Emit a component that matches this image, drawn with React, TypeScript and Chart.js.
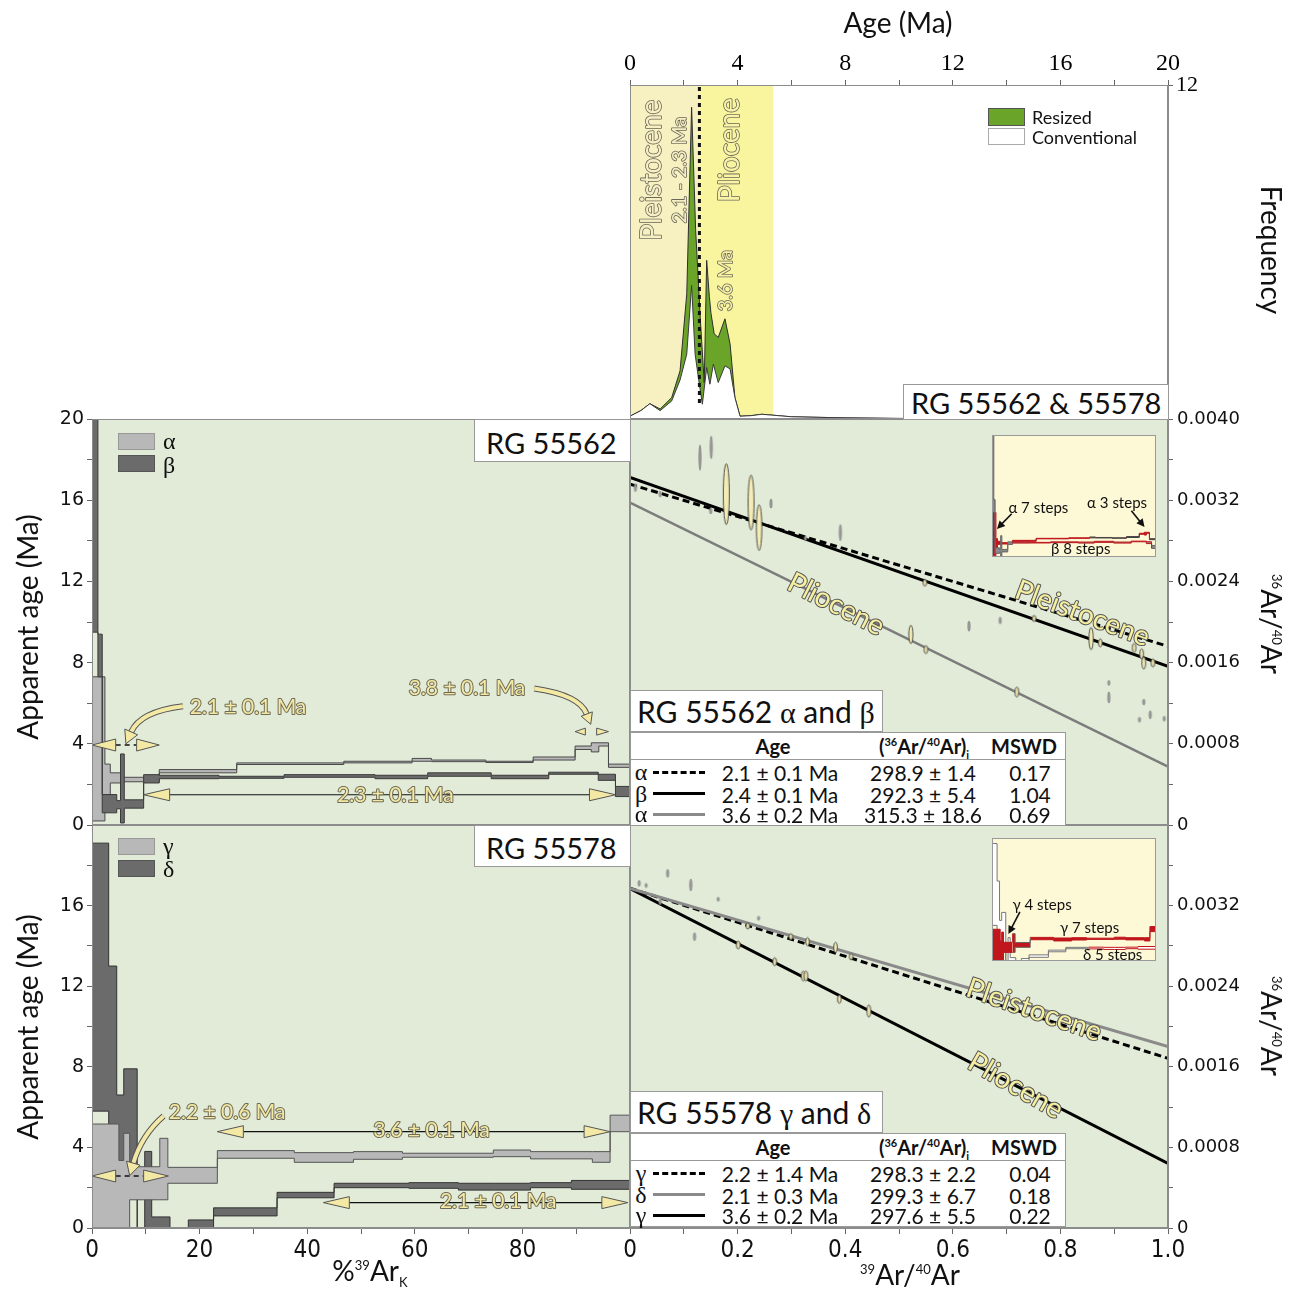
import React, { useEffect, useRef } from 'react';
import { Chart, registerables } from 'chart.js';

Chart.register(...registerables);

/* ===================== DATA ===================== */
// Top panel: age probability density (Ma vs frequency)
const resizedAge = [0, 0.4, 0.74, 1.12, 1.55, 1.86, 2.11, 2.29, 2.44, 2.62, 2.76, 2.85, 2.95, 3.01, 3.13, 3.28, 3.53, 3.72, 3.9, 4.09, 4.5, 4.9, 6, 8, 10, 20];
const resizedFreq = [0.1, 0.3, 0.55, 0.36, 0.77, 1.73, 4.5, 11.2, 6.8, 3.5, 1.3, 5.7, 4.4, 3.8, 3.06, 2.93, 3.6, 2.7, 0.77, 0.1, 0.12, 0.17, 0.08, 0.04, 0.02, 0];
const conventionalAge = [0, 0.4, 0.74, 1.12, 1.55, 1.86, 2.11, 2.29, 2.42, 2.6, 2.69, 2.85, 2.97, 3.1, 3.28, 3.53, 3.72, 3.9, 4.09, 4.5, 4.9, 6, 8, 10, 20];
const conventionalFreq = [0.1, 0.3, 0.55, 0.3, 0.65, 1.4, 2.33, 4.8, 2.33, 1.1, 0.53, 1.85, 1.25, 1.97, 1.31, 1.91, 1.8, 0.77, 0.1, 0.12, 0.17, 0.08, 0.04, 0.02, 0];
const epochLimits = [0, 2.58, 5.33]; // Pleistocene | Pliocene (Ma)

// Age spectra: cumulative %39ArK step edges and age envelopes (Ma)
const alphaEdges = [0, 2.4, 3.4, 5.7, 12.5, 26.9, 46.8, 59.5, 63.1, 73.2, 82.0, 89.8, 92.8, 94.2, 96.0, 100];
const alphaLow = [0.2, 1.2, 2.07, 2.13, 2.57, 2.98, 3.06, 3.14, 3.12, 3.08, 3.2, 3.72, 3.6, 3.89, 2.84];
const alphaHigh = [7.3, 3.0, 2.57, 2.35, 2.73, 3.06, 3.14, 3.28, 3.2, 3.14, 3.35, 3.89, 4.05, 4.05, 3.0];

const betaEdges = [0, 1.1, 1.9, 4.6, 5.3, 6.0, 9.6, 12.5, 23.6, 35.7, 52.6, 62.4, 74.2, 84.9, 94.1, 97.3, 100];
const betaLow = [9.5, 7.3, 0.6, 0.8, 0.1, 0.83, 2.07, 2.28, 2.3, 2.35, 2.28, 2.4, 2.28, 2.5, 2.2, 1.4];
const betaHigh = [20.5, 9.4, 1.5, 1.2, 3.5, 1.24, 2.48, 2.45, 2.4, 2.48, 2.45, 2.57, 2.45, 2.6, 2.5, 1.9];

const gammaEdges = [0, 5.0, 5.9, 7.0, 12.6, 14.1, 23.3, 37.6, 48.6, 57.7, 74.6, 81.5, 93.0, 96.3, 100];
const gammaLow = [0, 0, 0, 1.4, 1.4, 2.22, 3.46, 3.26, 3.41, 3.51, 3.54, 3.43, 3.26, 4.78];
const gammaHigh = [5.16, 3.35, 4.7, 3.04, 4.45, 3.01, 3.84, 3.74, 3.79, 3.71, 3.87, 3.79, 3.79, 5.6];

const deltaEdges = [0, 3.1, 4.6, 5.9, 8.4, 9.8, 11.1, 14.5, 17.9, 22.6, 34.4, 45.0, 58.9, 68.1, 74.8, 81.5, 89.1, 100];
const deltaLow = [5.8, 3.3, 2.4, 3.0, 0, 0, 0, 0, 0, 0.6, 1.5, 2.0, 1.97, 1.88, 1.88, 2.0, 1.92];
const deltaHigh = [19.1, 13.0, 6.6, 7.9, 0, 3.8, 0.55, 0, 0.4, 1.0, 1.77, 2.22, 2.25, 2.22, 2.22, 2.25, 2.36];

// Isochrons (39Ar/40Ar vs 36Ar/40Ar): line values at x = 0 and x = 1
const isoLineX = [0, 1];
const rg62AlphaPleist = [0.003358, 0.001761];
const rg62BetaPleist = [0.003424, 0.001563];
const rg62AlphaPlio = [0.003177, 0.000576];
const rg78GammaPleist = [0.003372, 0.001684];
const rg78DeltaPleist = [0.00337, 0.0018];
const rg78GammaPlio = [0.00337, 0.000642];

// Isochron steps (x, y, half-height error in y)
const rg62InX = [0.179, 0.225, 0.24, 0.548, 0.522, 0.55, 0.719, 0.751, 0.857, 0.874, 0.937, 0.951, 0.955, 0.972];
const rg62InY = [0.00326, 0.003177, 0.00293, 0.002387, 0.001877, 0.001728, 0.00131, 0.002035, 0.001837, 0.001794, 0.001745, 0.001686, 0.001597, 0.001597];
const rg62InE = [0.0003, 0.00027, 0.000224, 0.000033, 0.00009, 0.00004, 0.00005, 0.00003, 0.00011, 0.00004, 0.000045, 0.00005, 0.00006, 0.00004];
const rg62OutX = [0.13, 0.151, 0.262, 0.391, 0.63, 0.688, 0.89, 0.89, 0.955, 0.967, 0.947, 0.993, 0.01, 0.056, 0.15, 0.326];
const rg62OutY = [0.00362, 0.00372, 0.003167, 0.00288, 0.001959, 0.002015, 0.0014, 0.001257, 0.001211, 0.001086, 0.001037, 0.001047, 0.003325, 0.00326, 0.003094, 0.002825];
const rg62OutE = [0.000123, 0.00011, 0.000045, 0.00008, 0.00005, 0.000033, 0.000025, 0.000055, 0.00003, 0.00004, 0.000025, 0.000025, 0.00004, 0.00003, 0.00003, 0.00002];

const rg78InX = [0.201, 0.269, 0.322, 0.327, 0.389, 0.444, 0.219, 0.299, 0.33, 0.382, 0.411];
const rg78InY = [0.002809, 0.002643, 0.002501, 0.002501, 0.00227, 0.002154, 0.002998, 0.002892, 0.002842, 0.002786, 0.002693];
const rg78InE = [0.00004, 0.00004, 0.00005, 0.00005, 0.00004, 0.00006, 0.00003, 0.00003, 0.00004, 0.00005, 0.00003];
const rg78OutX = [0.07, 0.113, 0.164, 0.239, 0.12, 0.017, 0.056, 0.03];
const rg78OutY = [0.00352, 0.003405, 0.003263, 0.003074, 0.002892, 0.003421, 0.003239, 0.0034];
const rg78OutE = [0.00004, 0.00006, 0.00002, 0.00002, 0.00004, 0.00003, 0.00003, 0.00002];

// Result tables
const tabABSym = ['α', 'β', 'α'];
const tabABLine = ['dash', 'solid', 'gray'];
const tabABAge = ['2.1 ± 0.1 Ma', '2.4 ± 0.1 Ma', '3.6 ± 0.2 Ma'];
const tabABRatio = ['298.9 ± 1.4', '292.3 ± 5.4', '315.3 ± 18.6'];
const tabABMswd = ['0.17', '1.04', '0.69'];
const tabGDSym = ['γ', 'δ', 'γ'];
const tabGDLine = ['dash', 'gray', 'solid'];
const tabGDAge = ['2.2 ± 1.4 Ma', '2.1 ± 0.3 Ma', '3.6 ± 0.2 Ma'];
const tabGDRatio = ['298.3 ± 2.2', '299.3 ± 6.7', '297.6 ± 5.5'];
const tabGDMswd = ['0.04', '0.18', '0.22'];

/* ===================== STYLE ===================== */
const F_CAL = "Lato, 'Open Sans', 'DejaVu Sans', sans-serif";
const F_NARROW = "'Liberation Sans Narrow', 'DejaVu Sans Condensed', Lato, sans-serif";
const F_VERD = "'DejaVu Sans', Verdana, sans-serif";
const F_SERIF = "'Liberation Serif', 'DejaVu Serif', serif";
const PANEL = '#e2ebd8';
const FRAME = '#8c8c8c';
const LIGHT = '#b8b8b8';
const DARK = '#6b6b6b';
const NOTE_FILL = '#f3e9a4';
const NOTE_LINE = '#6e6a55';
const RED = '#c0161c';

/* ===================== HELPERS ===================== */
const zipPts = (xs: number[], ys: number[]) => xs.map((x, i) => ({ x, y: ys[i] }));
const zipErr = (xs: number[], ys: number[], es: number[]) => xs.map((x, i) => ({ x, y: ys[i], e: es[i] }));
const stepPts = (edges: number[], vals: number[]) => edges.map((x, i) => ({ x, y: vals[Math.min(i, vals.length - 1)] }));

function stepPair(label: string, edges: number[], low: number[], high: number[], fill: string, border: string, seg?: (i: number) => string) {
  const extra: any = seg ? { segment: { borderColor: (c: any) => seg(c.p0DataIndex) } } : {};
  return [
    { label: label + ' upper', data: stepPts(edges, high), stepped: 'before', borderColor: border, borderWidth: 1, pointRadius: 0, fill: false, ...extra },
    { label: label + ' lower', data: stepPts(edges, low), stepped: 'before', borderColor: border, borderWidth: 1, pointRadius: 0, fill: '-1', backgroundColor: fill, ...extra },
  ];
}

const ellipseCache = new Map<string, HTMLCanvasElement>();
function ellipseImage(rx: number, ry: number, fill: string, stroke: string) {
  const key = `${rx.toFixed(1)}_${ry.toFixed(1)}_${fill}_${stroke}`;
  let c = ellipseCache.get(key);
  if (!c) {
    c = document.createElement('canvas');
    c.width = Math.ceil(rx * 2 + 3);
    c.height = Math.ceil(ry * 2 + 3);
    const g = c.getContext('2d')!;
    g.beginPath();
    g.ellipse(c.width / 2, c.height / 2, rx, ry, 0, 0, Math.PI * 2);
    g.fillStyle = fill;
    g.fill();
    g.lineWidth = 0.9;
    g.strokeStyle = stroke;
    g.stroke();
    ellipseCache.set(key, c);
  }
  return c;
}
function ellipseStyle(c: any, fill: string, stroke: string, thin: boolean) {
  const raw = c.raw;
  if (!raw || c.type !== 'data' || !c.chart.scales.y) return 'circle';
  const ys = c.chart.scales.y;
  const ry = Math.max(2, Math.abs(ys.getPixelForValue(raw.y + raw.e) - ys.getPixelForValue(raw.y)));
  const rx = thin ? 1.1 : Math.min(3, 1.6 + ry * 0.05);
  return ellipseImage(rx, ry, fill, stroke);
}

function outlined(ctx: CanvasRenderingContext2D, text: string, px: number, py: number, size: number, fill: string, stroke: string, deg = 0, lw = 2) {
  ctx.save();
  ctx.translate(px, py);
  ctx.rotate((deg * Math.PI) / 180);
  ctx.font = `${size}px ${F_CAL}`;
  ctx.textAlign = 'center';
  ctx.textBaseline = 'middle';
  ctx.lineJoin = 'round';
  ctx.lineWidth = lw;
  ctx.strokeStyle = stroke;
  ctx.strokeText(text, 0, 0);
  ctx.fillStyle = fill;
  ctx.fillText(text, 0, 0);
  ctx.restore();
}
function triangle(ctx: CanvasRenderingContext2D, tipX: number, baseX: number, y: number, half: number) {
  ctx.save();
  ctx.beginPath();
  ctx.moveTo(tipX, y);
  ctx.lineTo(baseX, y - half);
  ctx.lineTo(baseX, y + half);
  ctx.closePath();
  ctx.fillStyle = NOTE_FILL;
  ctx.fill();
  ctx.strokeStyle = '#555';
  ctx.lineWidth = 1;
  ctx.stroke();
  ctx.restore();
}
function hArrow(ctx: CanvasRenderingContext2D, xL: number, xR: number, y: number, head: number, half: number) {
  ctx.save();
  ctx.strokeStyle = '#111';
  ctx.lineWidth = 1.2;
  ctx.beginPath();
  ctx.moveTo(xL + head, y);
  ctx.lineTo(xR - head, y);
  ctx.stroke();
  ctx.restore();
  triangle(ctx, xL, xL + head, y, half);
  triangle(ctx, xR, xR - head, y, half);
}
function dashSeg(ctx: CanvasRenderingContext2D, x0: number, x1: number, y: number) {
  ctx.save();
  ctx.setLineDash([5, 4]);
  ctx.strokeStyle = '#111';
  ctx.lineWidth = 1.3;
  ctx.beginPath();
  ctx.moveTo(x0, y);
  ctx.lineTo(x1, y);
  ctx.stroke();
  ctx.restore();
}
function curvedArrow(ctx: CanvasRenderingContext2D, p0: number[], c: number[], p1: number[], L = 13, W = 7) {
  const ang = Math.atan2(p1[1] - c[1], p1[0] - c[0]);
  const bx = p1[0] - L * Math.cos(ang), by = p1[1] - L * Math.sin(ang);
  ctx.save();
  ctx.beginPath();
  ctx.moveTo(p0[0], p0[1]);
  ctx.quadraticCurveTo(c[0], c[1], bx, by);
  ctx.strokeStyle = '#555';
  ctx.lineWidth = 6;
  ctx.stroke();
  ctx.strokeStyle = NOTE_FILL;
  ctx.lineWidth = 4;
  ctx.stroke();
  ctx.beginPath();
  ctx.moveTo(p1[0], p1[1]);
  ctx.lineTo(bx + W * Math.sin(ang), by - W * Math.cos(ang));
  ctx.lineTo(bx - W * Math.sin(ang), by + W * Math.cos(ang));
  ctx.closePath();
  ctx.fillStyle = NOTE_FILL;
  ctx.fill();
  ctx.strokeStyle = '#555';
  ctx.lineWidth = 1;
  ctx.stroke();
  ctx.restore();
}
function blackArrow(ctx: CanvasRenderingContext2D, p0: number[], p1: number[]) {
  const ang = Math.atan2(p1[1] - p0[1], p1[0] - p0[0]);
  ctx.save();
  ctx.strokeStyle = '#111';
  ctx.fillStyle = '#111';
  ctx.lineWidth = 1.6;
  ctx.beginPath();
  ctx.moveTo(p0[0], p0[1]);
  ctx.lineTo(p1[0] - 6 * Math.cos(ang), p1[1] - 6 * Math.sin(ang));
  ctx.stroke();
  ctx.beginPath();
  ctx.moveTo(p1[0], p1[1]);
  ctx.lineTo(p1[0] - 8 * Math.cos(ang) + 4 * Math.sin(ang), p1[1] - 8 * Math.sin(ang) - 4 * Math.cos(ang));
  ctx.lineTo(p1[0] - 8 * Math.cos(ang) - 4 * Math.sin(ang), p1[1] - 8 * Math.sin(ang) + 4 * Math.cos(ang));
  ctx.closePath();
  ctx.fill();
  ctx.restore();
}

function framePlugin(bg: string | null, border = FRAME) {
  return {
    id: 'frame',
    beforeDraw(chart: any) {
      if (!bg) return;
      const { ctx, chartArea: a } = chart;
      ctx.save();
      ctx.fillStyle = bg;
      ctx.fillRect(a.left, a.top, a.right - a.left, a.bottom - a.top);
      ctx.restore();
    },
    afterDraw(chart: any) {
      const { ctx, chartArea: a } = chart;
      ctx.save();
      ctx.strokeStyle = border;
      ctx.lineWidth = 1;
      ctx.strokeRect(a.left + 0.5, a.top + 0.5, a.right - a.left - 1, a.bottom - a.top - 1);
      ctx.restore();
    },
  };
}
function notesPlugin(fn: (chart: any) => void) {
  return { id: 'notes', afterDatasetsDraw(chart: any) { fn(chart); } };
}
const bandsPlugin = {
  id: 'bands',
  beforeDatasetsDraw(chart: any) {
    const { ctx, chartArea: a, scales: { x } } = chart;
    const p = epochLimits.map((v) => x.getPixelForValue(v));
    ctx.save();
    ctx.fillStyle = '#f7f0c1';
    ctx.fillRect(p[0], a.top, p[1] - p[0], a.bottom - a.top);
    ctx.fillStyle = '#f9f59f';
    ctx.fillRect(p[1], a.top, p[2] - p[1], a.bottom - a.top);
    ctx.restore();
  },
};

const baseOpts = (padding: any) => ({
  responsive: false,
  animation: false,
  devicePixelRatio: 1,
  layout: { padding },
  plugins: { legend: { display: false }, tooltip: { enabled: false } },
});

const gridOpts = { drawOnChartArea: false, tickLength: 5, color: '#666' };

// fixed axis sizes, no extra label padding pushed into the layout
const fitH = (h: number) => (s: any) => { s.height = h; s.paddingLeft = 0; s.paddingRight = 0; s.paddingTop = 0; s.paddingBottom = 0; };
const fitW = (w: number) => (s: any) => { s.width = w; s.paddingLeft = 0; s.paddingRight = 0; s.paddingTop = 0; s.paddingBottom = 0; };
const fitNone = (s: any) => { s.width = 0; s.height = 0; s.paddingLeft = 0; s.paddingRight = 0; s.paddingTop = 0; s.paddingBottom = 0; };

/* ===================== CONFIGS ===================== */
function topNotes(chart: any) {
  const { ctx, chartArea: a, scales: { x, y } } = chart;
  const bx = x.getPixelForValue(epochLimits[1]);
  ctx.save();
  ctx.setLineDash([4, 4]);
  ctx.lineWidth = 3;
  ctx.strokeStyle = '#111';
  ctx.beginPath();
  ctx.moveTo(bx, a.top + 2);
  ctx.lineTo(bx, a.bottom - 14);
  ctx.stroke();
  ctx.restore();
  const X = (v: number) => x.getPixelForValue(v), Y = (v: number) => y.getPixelForValue(v);
  outlined(ctx, 'Pleistocene', X(0.82), Y(8.94), 28, '#f6efc4', '#6b6757', -90, 1.6);
  outlined(ctx, '2.1 - 2.3 Ma', X(1.84), Y(8.94), 20, '#f6efc4', '#6b6757', -90, 1.6);
  outlined(ctx, 'Pliocene', X(3.72), Y(9.66), 28, '#f8f3a6', '#6b6757', -90, 1.6);
  outlined(ctx, '3.6 Ma', X(3.55), Y(4.97), 20, '#f8f3a6', '#6b6757', -90, 1.6);
}

function topConfig(): any {
  return {
    type: 'line',
    data: {
      datasets: [
        { label: 'Conventional', data: zipPts(conventionalAge, conventionalFreq), borderColor: '#3b3b3b', borderWidth: 1, backgroundColor: '#ffffff', fill: 'origin', pointRadius: 0, order: 0 },
        { label: 'Resized', data: zipPts(resizedAge, resizedFreq), borderColor: '#2f2f2f', borderWidth: 1, backgroundColor: '#6aa52a', fill: 'origin', pointRadius: 0, order: 1 },
      ],
    },
    options: {
      ...baseOpts({ left: 30, right: 0, top: 0, bottom: 6 }),
      scales: {
        x: {
          type: 'linear', position: 'top', min: 0, max: 20,
          ticks: { stepSize: 2, autoSkip: false, maxRotation: 0, padding: 2, color: '#000', font: { family: F_SERIF, size: 24 }, callback: (v: number) => (v % 4 === 0 ? String(v) : '') },
          grid: gridOpts, border: { color: FRAME },
          afterFit: fitH(85),
        },
        y: {
          type: 'linear', position: 'right', min: 0, max: 12,
          ticks: { stepSize: 12, padding: 3, color: '#000', font: { family: F_SERIF, size: 22 }, callback: (v: number) => (v === 12 ? '12' : '') },
          grid: gridOpts, border: { color: FRAME },
          afterFit: fitW(121),
        },
      },
    },
    plugins: [framePlugin('#ffffff'), bandsPlugin, notesPlugin(topNotes)],
  };
}

function spectrumConfig(datasets: any[], showX: boolean, hideTop: boolean, notes: (c: any) => void, padding: any): any {
  return {
    type: 'line',
    data: { datasets },
    options: {
      ...baseOpts(padding),
      scales: {
        x: {
          type: 'linear', min: 0, max: 100, display: showX,
          ticks: { stepSize: 10, autoSkip: false, maxRotation: 0, padding: 2, color: '#111', font: { family: F_NARROW, size: 24 }, callback: (v: number) => (v % 20 === 0 && v !== 100 ? String(v) : '') },
          grid: { ...gridOpts, tickLength: 6 }, border: { color: FRAME },
          afterFit: showX ? fitH(65) : fitNone,
        },
        y: {
          type: 'linear', min: 0, max: 20,
          ticks: { stepSize: 2, autoSkip: false, padding: 3, color: '#111', font: { family: F_VERD, size: 19 }, callback: (v: number) => (v % 4 === 0 && !(hideTop && v === 20) ? String(v) : '') },
          grid: gridOpts, border: { color: FRAME },
          afterFit: fitW(52),
        },
      },
    },
    plugins: [framePlugin(PANEL), notesPlugin(notes)],
  };
}

function notesB(chart: any) {
  const { ctx, scales: { x, y } } = chart;
  const X = (v: number) => x.getPixelForValue(v), Y = (v: number) => y.getPixelForValue(v);
  hArrow(ctx, X(9.6), X(97.3), Y(1.49), 26, 6);
  outlined(ctx, '2.3 ± 0.1 Ma', X(56.4), Y(1.49), 21, NOTE_FILL, NOTE_LINE);
  dashSeg(ctx, X(4.4), X(8.3), Y(3.94));
  triangle(ctx, X(0), X(4.4), Y(3.94), 6);
  triangle(ctx, X(12.5), X(8.3), Y(3.94), 6);
  curvedArrow(ctx, [X(16.9), Y(5.85)], [X(9.0), Y(5.6)], [X(6.3), Y(4.0)]);
  outlined(ctx, '2.1 ± 0.1 Ma', X(29.0), Y(5.79), 21, NOTE_FILL, NOTE_LINE);
  triangle(ctx, X(89.8), X(91.7), Y(4.6), 3.5);
  triangle(ctx, X(96), X(93.8), Y(4.6), 3.5);
  curvedArrow(ctx, [X(82.2), Y(6.72)], [X(90.6), Y(6.4)], [X(92.7), Y(4.96)], 11, 6);
  outlined(ctx, '3.8 ± 0.1 Ma', X(69.7), Y(6.75), 21, NOTE_FILL, NOTE_LINE);
}
function notesD(chart: any) {
  const { ctx, scales: { x, y } } = chart;
  const X = (v: number) => x.getPixelForValue(v), Y = (v: number) => y.getPixelForValue(v);
  hArrow(ctx, X(23.3), X(96.3), Y(4.78), 26, 6);
  outlined(ctx, '3.6 ± 0.1 Ma', X(63.1), Y(4.86), 21, NOTE_FILL, NOTE_LINE);
  hArrow(ctx, X(43), X(99.6), Y(1.26), 26, 6);
  outlined(ctx, '2.1 ± 0.1 Ma', X(75.5), Y(1.31), 21, NOTE_FILL, NOTE_LINE);
  dashSeg(ctx, X(4.4), X(9.6), Y(2.58));
  triangle(ctx, X(0), X(4.4), Y(2.58), 6);
  triangle(ctx, X(14.2), X(9.6), Y(2.58), 6);
  curvedArrow(ctx, [X(13.3), Y(5.56)], [X(9.2), Y(4.6)], [X(7.0), Y(2.6)]);
  outlined(ctx, '2.2 ± 0.6 Ma', X(25.1), Y(5.73), 21, NOTE_FILL, NOTE_LINE);
}

function isoLine(label: string, vals: number[], color: string, width: number, dash: number[] = []) {
  return { label, data: zipPts(isoLineX, vals), borderColor: color, borderWidth: width, borderDash: dash, pointRadius: 0, fill: false, order: 2 };
}
function isoPoints(label: string, pts: any[], fill: string, stroke: string, thin = false) {
  return { label, data: pts, showLine: false, pointRadius: 3, pointHoverRadius: 3, pointStyle: (c: any) => ellipseStyle(c, fill, stroke, thin), order: 0 };
}
function isoConfig(datasets: any[], showX: boolean, hideTop: boolean, notes: (c: any) => void, padding: any): any {
  return {
    type: 'line',
    data: { datasets },
    options: {
      ...baseOpts(padding),
      scales: {
        x: {
          type: 'linear', min: 0, max: 1, display: showX,
          ticks: {
            stepSize: 0.1, autoSkip: false, maxRotation: 0, padding: 2, color: '#111', font: { family: F_NARROW, size: 24 },
            callback: (v: number) => { const i = Math.round(v * 10); return i % 2 ? '' : i === 0 ? '0' : (i / 10).toFixed(1); },
          },
          grid: { ...gridOpts, tickLength: 6 }, border: { color: FRAME },
          afterFit: showX ? fitH(65) : fitNone,
        },
        y: {
          type: 'linear', position: 'right', min: 0, max: 0.004,
          ticks: {
            stepSize: 0.0004, autoSkip: false, padding: 4, color: '#111', font: { family: F_VERD, size: 18 },
            callback: (v: number) => { const i = Math.round(v / 0.0004); if (i % 2) return ''; if (hideTop && i === 10) return ''; return i === 0 ? '0' : (i * 0.0004).toFixed(4); },
          },
          grid: gridOpts, border: { color: FRAME },
          afterFit: fitW(121),
        },
      },
    },
    plugins: [framePlugin(PANEL), notesPlugin(notes)],
  };
}
function notesC(chart: any) {
  const { ctx, scales: { x, y } } = chart;
  outlined(ctx, 'Pliocene', x.getPixelForValue(0.383), y.getPixelForValue(0.002173), 28, '#f7efa0', '#555', 27);
  outlined(ctx, 'Pleistocene', x.getPixelForValue(0.841), y.getPixelForValue(0.002084), 28, '#f7efa0', '#555', 20.5);
}
function notesE(chart: any) {
  const { ctx, scales: { x, y } } = chart;
  outlined(ctx, 'Pleistocene', x.getPixelForValue(0.751), y.getPixelForValue(0.002164), 28, '#f7efa0', '#555', 19);
  outlined(ctx, 'Pliocene', x.getPixelForValue(0.717), y.getPixelForValue(0.001413), 28, '#f7efa0', '#555', 30);
}

function insetConfig(datasets: any[], notes: (c: any) => void): any {
  return {
    type: 'line',
    data: { datasets },
    options: {
      ...baseOpts({ left: 0, right: 0, top: 0, bottom: 0 }),
      scales: {
        x: { type: 'linear', min: 0, max: 100, display: false, afterFit: fitNone },
        y: { type: 'linear', min: 0, max: 20, display: false, afterFit: fitNone },
      },
    },
    plugins: [framePlugin('#fdf8d6', '#9a9a9a'), notesPlugin(notes)],
  };
}
function insetText(ctx: CanvasRenderingContext2D, t: string, px: number, py: number) {
  ctx.save();
  ctx.font = `15px ${F_CAL}`;
  ctx.fillStyle = '#111';
  ctx.textAlign = 'left';
  ctx.textBaseline = 'middle';
  ctx.fillText(t, px, py);
  ctx.restore();
}
function notesI1(chart: any) {
  const { ctx, scales: { x, y } } = chart;
  const X = (v: number) => x.getPixelForValue(v), Y = (v: number) => y.getPixelForValue(v);
  insetText(ctx, 'α 7 steps', X(10), Y(8.0));
  insetText(ctx, 'α 3 steps', X(58), Y(8.85));
  insetText(ctx, 'β 8 steps', X(36), Y(1.3));
  blackArrow(ctx, [X(12), Y(7.1)], [X(3), Y(4.6)]);
  blackArrow(ctx, [X(85), Y(7.6)], [X(93), Y(4.9)]);
}
function notesI2(chart: any) {
  const { ctx, scales: { x, y } } = chart;
  const X = (v: number) => x.getPixelForValue(v), Y = (v: number) => y.getPixelForValue(v);
  insetText(ctx, 'γ 4 steps', X(12.5), Y(9.1));
  insetText(ctx, 'γ 7 steps', X(41.5), Y(5.4));
  insetText(ctx, 'δ 5 steps', X(55.5), Y(1.0));
  blackArrow(ctx, [X(17), Y(8.0)], [X(10), Y(4.4)]);
}

/* ===================== HTML PIECES ===================== */
const Sup = ({ t, size = 13, rise = 11 }: any) => <span style={{ fontSize: size, position: 'relative', top: -rise }}>{t}</span>;
const Sub = ({ t, size = 13, drop = 6 }: any) => <span style={{ fontSize: size, position: 'relative', top: drop }}>{t}</span>;
const Gk = ({ t }: any) => <span style={{ fontFamily: F_SERIF }}>{t}</span>;

function CT({ x, y, size = 28, rot = 0, children, family = F_CAL, weight = 400 }: any) {
  return (
    <div style={{ position: 'absolute', left: x, top: y, transform: `translate(-50%,-50%)${rot ? ` rotate(${rot}deg)` : ''}`, whiteSpace: 'nowrap', fontSize: size, fontFamily: family, fontWeight: weight, color: '#111', lineHeight: 1 }}>
      {children}
    </div>
  );
}
function LT({ x, y, size = 18, children, family = F_CAL }: any) {
  return (
    <div style={{ position: 'absolute', left: x, top: y, transform: 'translateY(-50%)', whiteSpace: 'nowrap', fontSize: size, fontFamily: family, color: '#111', lineHeight: 1 }}>
      {children}
    </div>
  );
}
function Box({ l, t, w, h, bg = '#fff', border = '#999' }: any) {
  return <div style={{ position: 'absolute', left: l, top: t, width: w, height: h, background: bg, border: `1px solid ${border}`, boxSizing: 'border-box' }} />;
}

function ResultTable({ top, title, syms, lines, ages, ratios, mswds }: any) {
  const lineStyle = (k: string) =>
    k === 'dash' ? '3px dashed #000' : k === 'solid' ? '3px solid #000' : '3px solid #8a8a8a';
  const tTop = top + 42;
  const rowY = [40, 61.5, 82];
  return (
    <>
      <div style={{ position: 'absolute', left: 630, top, width: 253, height: 42, background: '#fff', border: '1px solid #999', boxSizing: 'border-box' }} />
      <LT x={637} y={top + 22} size={30}>{title}</LT>
      <div style={{ position: 'absolute', left: 630, top: tTop, width: 436, height: 94, background: '#fff', border: '1px solid #999', boxSizing: 'border-box' }} />
      <div style={{ position: 'absolute', left: 630, top: tTop + 27, width: 436, height: 0, borderTop: '1px solid #999' }} />
      <CT x={773} y={tTop + 14} size={20} weight={700}>Age</CT>
      <CT x={924} y={tTop + 14} size={20} weight={700}>
        (<Sup t="36" size={11} rise={8} />Ar/<Sup t="40" size={11} rise={8} />Ar)<Sub t="i" size={11} drop={5} />
      </CT>
      <CT x={1024} y={tTop + 14} size={20} weight={700}>MSWD</CT>
      {syms.map((s: string, i: number) => (
        <React.Fragment key={i}>
          <CT x={641} y={tTop + rowY[i]} size={24} family={F_SERIF}>{s}</CT>
          <div style={{ position: 'absolute', left: 653, top: tTop + rowY[i] - 1.5, width: 52, height: 0, borderTop: lineStyle(lines[i]) }} />
          <CT x={780} y={tTop + rowY[i]} size={21}>{ages[i]}</CT>
          <CT x={923} y={tTop + rowY[i]} size={21}>{ratios[i]}</CT>
          <CT x={1030} y={tTop + rowY[i]} size={21}>{mswds[i]}</CT>
        </React.Fragment>
      ))}
    </>
  );
}

/* ===================== APP ===================== */
export default function App() {
  const rA = useRef<HTMLCanvasElement>(null);
  const rB = useRef<HTMLCanvasElement>(null);
  const rC = useRef<HTMLCanvasElement>(null);
  const rD = useRef<HTMLCanvasElement>(null);
  const rE = useRef<HTMLCanvasElement>(null);
  const rI1 = useRef<HTMLCanvasElement>(null);
  const rI2 = useRef<HTMLCanvasElement>(null);

  useEffect(() => {
    const charts: Chart[] = [];
    charts.push(new Chart(rA.current!, topConfig()));
    charts.push(new Chart(rB.current!, spectrumConfig(
      [...stepPair('β', betaEdges, betaLow, betaHigh, DARK, '#3a3a3a'), ...stepPair('α', alphaEdges, alphaLow, alphaHigh, LIGHT, '#4a4a4a')],
      false, false, notesB, { left: 0, right: 10, top: 9, bottom: 5 })));
    charts.push(new Chart(rC.current!, isoConfig([
      isoPoints('RG 55562 included', zipErr(rg62InX, rg62InY, rg62InE), '#f3ecb4', '#3d3d3d'),
      isoPoints('RG 55562 excluded', zipErr(rg62OutX, rg62OutY, rg62OutE), '#9f9f9f', '#8a8a8a', true),
      isoLine('α 2.1 Ma', rg62AlphaPleist, '#000', 3, [7, 4]),
      isoLine('β 2.4 Ma', rg62BetaPleist, '#000', 3),
      isoLine('α 3.6 Ma', rg62AlphaPlio, '#7c7c7c', 2.5),
    ], false, false, notesC, { left: 10, right: 0, top: 9, bottom: 5 })));
    charts.push(new Chart(rD.current!, spectrumConfig(
      [...stepPair('γ', gammaEdges, gammaLow, gammaHigh, LIGHT, '#555'), ...stepPair('δ', deltaEdges, deltaLow, deltaHigh, DARK, '#333')],
      true, true, notesD, { left: 0, right: 10, top: 10, bottom: 0 })));
    charts.push(new Chart(rE.current!, isoConfig([
      isoPoints('RG 55578 included', zipErr(rg78InX, rg78InY, rg78InE), '#f3ecb4', '#3d3d3d'),
      isoPoints('RG 55578 excluded', zipErr(rg78OutX, rg78OutY, rg78OutE), '#9f9f9f', '#8a8a8a', true),
      isoLine('δ 2.1 Ma', rg78DeltaPleist, '#8a8a8a', 3),
      isoLine('γ 2.2 Ma', rg78GammaPleist, '#000', 3, [7, 4]),
      isoLine('γ 3.6 Ma', rg78GammaPlio, '#000', 3),
    ], true, true, notesE, { left: 10, right: 0, top: 10, bottom: 0 })));
    charts.push(new Chart(rI1.current!, insetConfig([
      ...stepPair('β inset', betaEdges, betaLow, betaHigh, '#8a8a8a', '#666', (i) => (i >= 7 && i <= 14 ? RED : '#666')),
      ...stepPair('α inset', alphaEdges, alphaLow, alphaHigh, RED, '#555', (i) => (i <= 6 || (i >= 11 && i <= 13) ? RED : '#444')),
    ], notesI1)));
    charts.push(new Chart(rI2.current!, insetConfig([
      ...stepPair('γ inset', gammaEdges, gammaLow, gammaHigh, RED, '#666', (i) => (i <= 3 || i >= 6 ? RED : '#666')),
      ...stepPair('δ inset', deltaEdges, deltaLow, deltaHigh, '#ffffff', '#777', (i) => (i >= 12 ? RED : '#777')),
    ], notesI2)));
    return () => charts.forEach((c) => c.destroy());
  }, []);

  const cv = (l: number, t: number) => ({ position: 'absolute' as const, left: l, top: t });

  return (
    <div style={{ position: 'absolute', left: 0, top: 0, width: 1289, height: 1293, background: '#fff', overflow: 'hidden', fontFamily: F_CAL }}>
      <canvas ref={rA} width={689} height={425} style={cv(600, 0)} />
      <canvas ref={rB} width={600} height={420} style={cv(40, 410)} />
      <canvas ref={rC} width={669} height={420} style={cv(620, 410)} />
      <canvas ref={rD} width={600} height={478} style={cv(40, 815)} />
      <canvas ref={rE} width={669} height={478} style={cv(620, 815)} />
      <canvas ref={rI1} width={164} height={122} style={cv(992, 435)} />
      <canvas ref={rI2} width={164} height={123} style={cv(992, 838)} />

      {/* axis titles */}
      <CT x={898} y={22} size={28}>Age (Ma)</CT>
      <CT x={1272} y={250} size={28} rot={90}>Frequency</CT>
      <CT x={27} y={627} size={28} rot={-90}>Apparent age (Ma)</CT>
      <CT x={27} y={1027} size={28} rot={-90}>Apparent age (Ma)</CT>
      <CT x={1272} y={624} size={28} rot={90}><Sup t="36" />Ar/<Sup t="40" />Ar</CT>
      <CT x={1272} y={1026} size={28} rot={90}><Sup t="36" />Ar/<Sup t="40" />Ar</CT>
      <CT x={370} y={1270} size={28}>%<Sup t="39" />Ar<Sub t="K" /></CT>
      <CT x={910} y={1274} size={28}><Sup t="39" />Ar/<Sup t="40" />Ar</CT>

      {/* top legend and label */}
      <Box l={988} t={108} w={37} h={18} bg="#6aa52a" border="#555" />
      <Box l={988} t={128} w={37} h={17} bg="#fff" border="#aaa" />
      <LT x={1032} y={117} size={18}>Resized</LT>
      <LT x={1032} y={137} size={18}>Conventional</LT>
      <Box l={903} t={384} w={266} h={36} />
      <LT x={911} y={402} size={29}>RG 55562 &amp; 55578</LT>

      {/* spectra legends and labels */}
      <Box l={118} t={433} w={37} h={17} bg={LIGHT} border="#999" />
      <Box l={118} t={455} w={37} h={17} bg={DARK} border="#555" />
      <LT x={163} y={441} size={24} family={F_SERIF}>α</LT>
      <LT x={163} y={465} size={24} family={F_SERIF}>β</LT>
      <Box l={474} t={419} w={157} h={43} />
      <LT x={486} y={442} size={29}>RG 55562</LT>

      <Box l={118} t={838} w={37} h={17} bg={LIGHT} border="#999" />
      <Box l={118} t={860} w={37} h={17} bg={DARK} border="#555" />
      <LT x={163} y={846} size={24} family={F_SERIF}>γ</LT>
      <LT x={163} y={869} size={24} family={F_SERIF}>δ</LT>
      <Box l={474} t={825} w={157} h={42} />
      <LT x={486} y={847} size={29}>RG 55578</LT>

      {/* isochron result tables */}
      <ResultTable top={690} title={<>RG 55562 <Gk t="α" /> and <Gk t="β" /></>} syms={tabABSym} lines={tabABLine} ages={tabABAge} ratios={tabABRatio} mswds={tabABMswd} />
      <ResultTable top={1091} title={<>RG 55578 <Gk t="γ" /> and <Gk t="δ" /></>} syms={tabGDSym} lines={tabGDLine} ages={tabGDAge} ratios={tabGDRatio} mswds={tabGDMswd} />
    </div>
  );
}
